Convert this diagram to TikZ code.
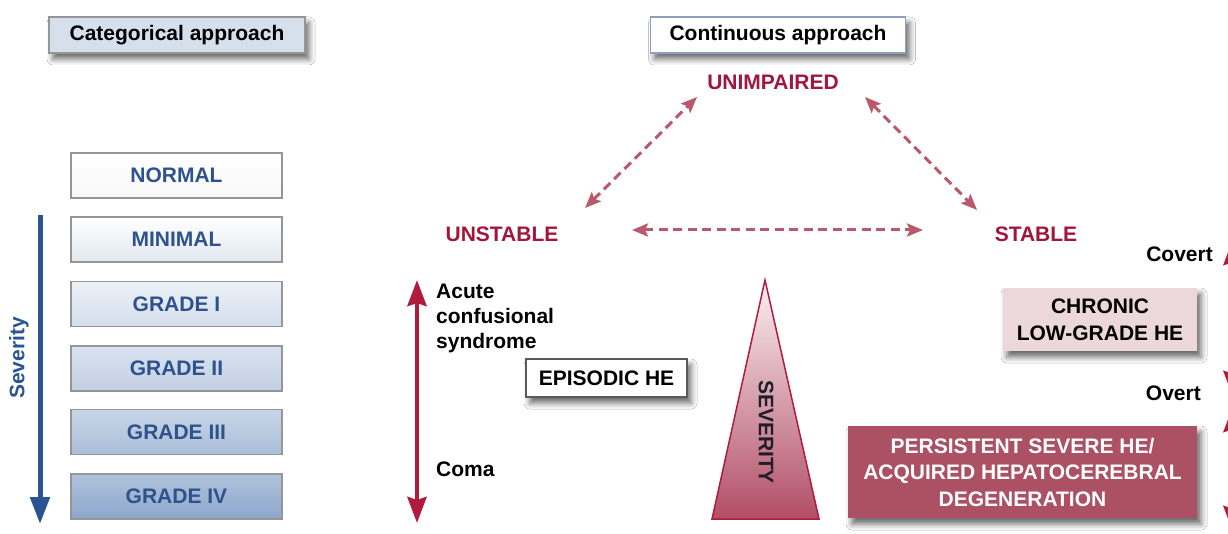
\documentclass[tikz,border=0pt]{standalone}
\usepackage{fontspec}
\setmainfont{Liberation Sans}
\usetikzlibrary{arrows.meta,shadows.blur}
\definecolor{hered}{RGB}{160,22,60}
\definecolor{dashred}{RGB}{186,88,108}
\definecolor{arrred}{RGB}{176,28,62}
\definecolor{sevblue}{RGB}{43,85,146}
\definecolor{gtext}{RGB}{45,82,140}
\definecolor{gborder}{RGB}{150,150,150}
\definecolor{persist}{RGB}{172,80,99}
\definecolor{chronic}{RGB}{236,216,220}
\definecolor{catfill}{RGB}{214,223,236}
\tikzset{
  txt/.style={font=\fontsize{21}{25}\selectfont\bfseries, inner sep=0pt},
  shad/.style={blur shadow={shadow xshift=4pt, shadow yshift=-6pt, shadow blur radius=6pt, shadow opacity=60}},
  headbox/.style={txt, draw=gborder, line width=1.2pt, minimum width=255pt, minimum height=36pt, shad},
  gradebox/.style={txt, text=gtext, draw=gborder, line width=1.2pt, minimum width=211pt, minimum height=45pt},
  dasharrow/.style={draw=dashred, line width=3pt, dash pattern=on 9pt off 5.5pt, {Stealth[length=16pt,width=13pt,inset=3pt]}-{Stealth[length=16pt,width=13pt,inset=3pt]}},
  redarrow/.style={draw=arrred, line width=4.5pt, {Stealth[length=26pt,width=19pt,inset=3pt]}-{Stealth[length=26pt,width=19pt,inset=3pt]}},
  statelbl/.style={txt, text=hered},
}
\begin{document}
\begin{tikzpicture}[x=1pt,y=-1pt]
\useasboundingbox (0,0) rectangle (1228,534);
\clip (0,0) rectangle (1228,534);
\fill[white] (0,0) rectangle (1228,534);

% ---- categorical approach
\node[headbox, fill=catfill, minimum width=256pt] (cat) at (177,35) {Categorical approach};
\node[gradebox, top color=white, bottom color=white!94!gray] (normal) at (176.5,175.5) {NORMAL};
\node[gradebox, top color=white, bottom color={rgb,255:red,226;green,232;blue,241}] (minimal) at (176.5,239.5) {MINIMAL};
\node[gradebox, top color={rgb,255:red,236;green,241;blue,248}, bottom color={rgb,255:red,212;green,222;blue,236}] (g1) at (176.5,304) {GRADE I};
\node[gradebox, top color={rgb,255:red,218;green,227;blue,239}, bottom color={rgb,255:red,194;green,208;blue,228}] (g2) at (176.5,368.5) {GRADE II};
\node[gradebox, top color={rgb,255:red,200;green,213;blue,231}, bottom color={rgb,255:red,170;green,190;blue,217}] (g3) at (176.5,432) {GRADE III};
\node[gradebox, top color={rgb,255:red,176;green,195;blue,221}, bottom color={rgb,255:red,140;green,166;blue,203}] (g4) at (176.5,496.5) {GRADE IV};

\coordinate (sevtop) at (40,215);
\coordinate (sevbot) at (40,524);
\draw[sevblue, line width=5pt, -{Triangle[length=27pt,width=19pt]}] (sevtop) -- (sevbot);
\node[txt, text=sevblue, rotate=90] (sevlbl) at (19,358) {Severity};

% ---- continuous approach
\node[headbox, fill=white, draw={rgb,255:red,140;green,160;blue,190}] (cont) at (778,35) {Continuous approach};
\node[statelbl] (unimp) at (773,82) {UNIMPAIRED};
\node[statelbl] (unstable) at (502,234) {UNSTABLE};
\node[statelbl] (stable) at (1036,234) {STABLE};

\coordinate (ul1) at (585,208);
\coordinate (ul2) at (697,97);
\coordinate (ur1) at (865,97);
\coordinate (ur2) at (977,210);
\coordinate (h1) at (632,230);
\coordinate (h2) at (923,230);
\path[dasharrow] (ul1) -- (ul2);
\path[dasharrow] (ur1) -- (ur2);
\path[dasharrow] (h1) -- (h2);

% unstable side
\coordinate (ra1) at (417,280);
\coordinate (ra2) at (417,523);
\path[redarrow] (ra1) -- (ra2);
\node[txt, anchor=north west, align=left] (acute) at (436,284) {Acute\\confusional\\syndrome};
\node[txt, anchor=west] (coma) at (436,469) {Coma};
\node[txt, draw={rgb,255:red,90;green,90;blue,90}, line width=1.2pt, fill=white, minimum width=161pt, minimum height=38pt, shad] (episodic) at (606.5,378) {EPISODIC HE};

% severity triangle
\path[draw=arrred, line width=1.5pt, top color={rgb,255:red,250;green,240;blue,243}, bottom color={rgb,255:red,178;green,78;blue,102}] (765,280) -- (819,519) -- (712,519) -- cycle;
\node[txt, rotate=-90, text={rgb,255:red,30;green,30;blue,40}] (sevtri) at (766,432) {SEVERITY};

% stable side
\node[txt, anchor=east] (covert) at (1213,254) {Covert};
\node[txt, anchor=east] (overt) at (1201,393) {Overt};
\node[txt, fill=chronic, align=center, minimum width=194pt, minimum height=63pt, font=\fontsize{21}{27}\selectfont\bfseries, shad] (chronic) at (1100,319.5) {CHRONIC\\LOW-GRADE HE};
\node[txt, fill=persist, text=white, align=center, minimum width=349pt, minimum height=92pt, font=\fontsize{21}{26.5}\selectfont\bfseries, shad] (persist) at (1022.5,472) {PERSISTENT SEVERE HE/\\ACQUIRED HEPATOCEREBRAL\\DEGENERATION};

\coordinate (c1) at (1233,239);
\coordinate (c2) at (1233,397);
\coordinate (o1) at (1233,406);
\coordinate (o2) at (1233,532);
\path[redarrow] (c1) -- (c2);
\path[redarrow] (o1) -- (o2);
\end{tikzpicture}
\end{document}
